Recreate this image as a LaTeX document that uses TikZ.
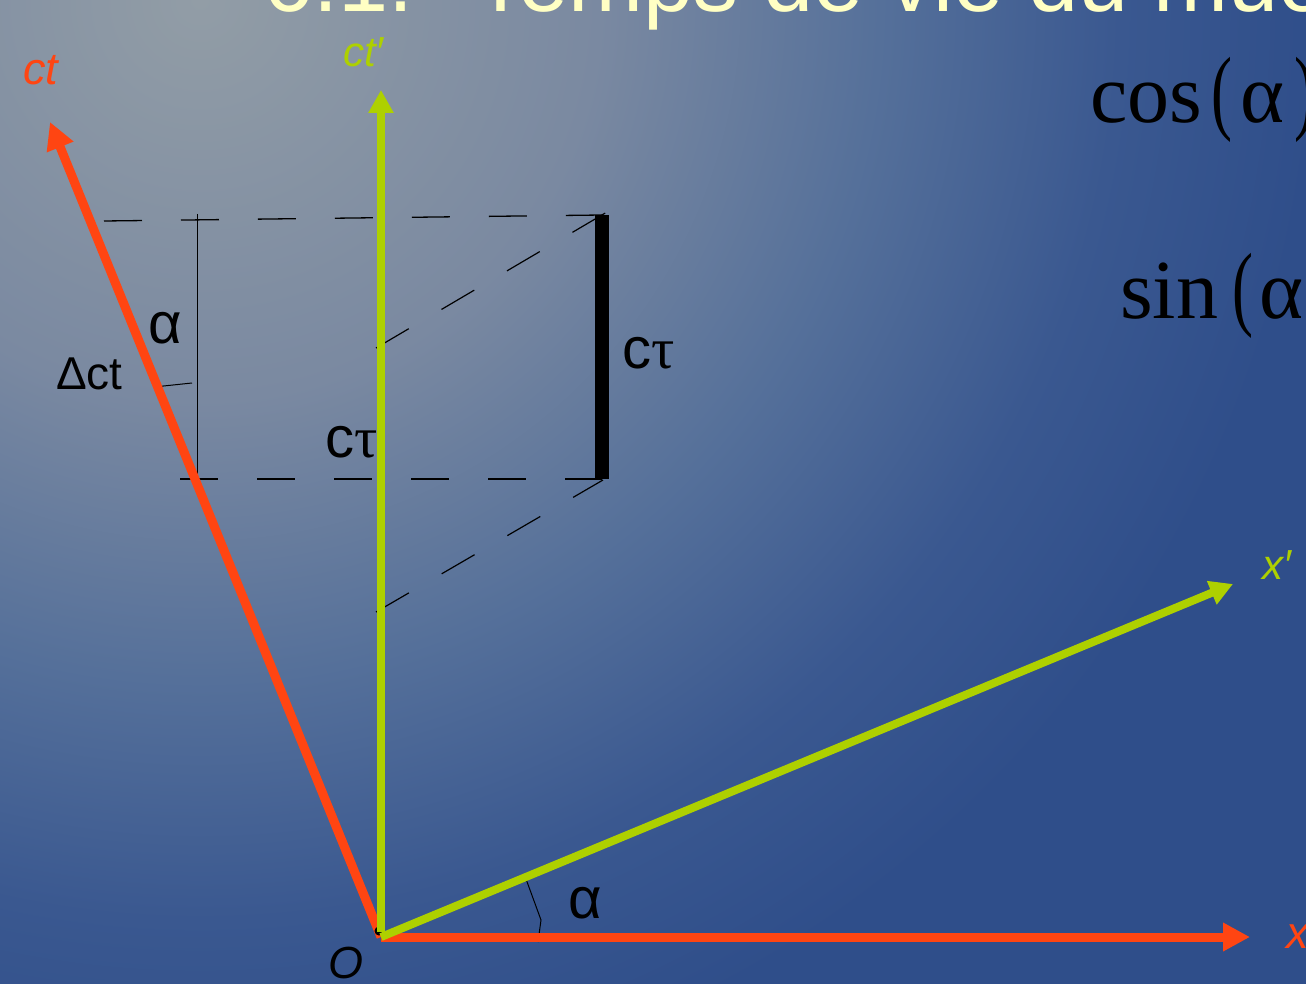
\documentclass[tikz,border=0pt]{standalone}
\usepackage{fontspec}
\usepackage{graphicx}
\setmainfont{Liberation Sans}
\newfontfamily\serifmath{Liberation Serif}
\usetikzlibrary{arrows.meta}
\definecolor{axred}{HTML}{FF4512}
\definecolor{axgreen}{HTML}{AED000}
\definecolor{titlecol}{HTML}{FFFFC4}
\definecolor{bgA}{HTML}{929DA6}
\definecolor{bgB}{HTML}{7A89A1}
\definecolor{bgC}{HTML}{55709A}
\definecolor{bgD}{HTML}{3A5890}
\definecolor{bgE}{HTML}{2F4E8A}
\pgfdeclareradialshading{bgrad}{\pgfpoint{0bp}{0bp}}{color(0bp)=(bgA); color(5bp)=(bgB); color(8.5bp)=(bgC); color(11.5bp)=(bgD); color(14bp)=(bgE); color(50bp)=(bgE)}
\begin{document}
\begin{tikzpicture}[x=1pt,y=-1pt,
  redaxis/.style={draw=axred, line width=9pt, -{Triangle[length=27pt,width=27pt]}},
  greenaxis/.style={draw=axgreen, line width=8pt, -{Triangle[length=23pt,width=24pt]}},
  dashline/.style={draw=black, line width=1.3pt, dash pattern=on 38pt off 39pt},
  diagdash/.style={draw=black, line width=1.2pt, dash pattern=on 38pt off 38pt},
  thinline/.style={draw=black, line width=1pt},
  lab/.style={inner sep=0pt, anchor=base west},
  axlab/.style={lab, font=\itshape\fontsize{45}{45}\selectfont},
  glab/.style={lab, text=black, font=\fontsize{58}{58}\selectfont},
  mathlab/.style={lab, text=black, font=\serifmath\fontsize{84}{84}\selectfont}
]
\useasboundingbox (0,0) rectangle (1306,984);
\clip (0,0) rectangle (1306,984);
\fill[bgE] (0,0) rectangle (1306,984);
\shade[shading=bgrad] (200,0) circle (2000);

% title (cut by the top edge)
\node[lab, text=titlecol, font=\fontsize{90}{90}\selectfont] (title) at (263,12) {6.1.\hspace{60pt}Temps de vie du muon};

% formulas (cut by the right edge)
\node[mathlab] (cosf) at (1090,123) {cos\kern9pt\scalebox{0.75}[1.12]{(}\kern8ptα\kern10pt\scalebox{0.75}[1.12]{)}};
\node[mathlab] (sinf) at (1120,318) {sin\kern14pt\scalebox{0.75}[1.12]{(}\kern6ptα};

% construction lines
\draw[dashline] (104,221) -- (602,215);
\draw[dashline] (180,479) -- (602,479);
\coordinate (d1a) at (376,348); \coordinate (d1b) at (607,212);
\coordinate (d2a) at (376,612); \coordinate (d2b) at (603,480);
\draw[diagdash] (d1a) -- (d1b);
\draw[diagdash] (d2a) -- (d2b);
\coordinate (v1) at (197,214); \coordinate (v2) at (197,479);
\draw[thinline] (v1) -- (v2);
\coordinate (t1) at (154,387); \coordinate (t2) at (192,383);
\draw[thinline] (t1) -- (t2);
\coordinate (m1) at (526,879); \coordinate (m2) at (541,920); \coordinate (m3) at (538,942);
\draw[thinline] (m1) -- (m2) -- (m3);

% proper-time bar
\fill[black] (595,215) rectangle (609,479);

% axes
\coordinate (O) at (381,937);
\coordinate (ctend) at (50,122);
\coordinate (ctpend) at (381,90);
\coordinate (xend) at (1250,937);
\coordinate (xpend) at (1233,584);
\draw[redaxis] (O) -- (ctend);
\draw[redaxis] (O) -- (xend);
\fill[black] (379,931) circle (4.5);
\draw[greenaxis] ([yshift=5pt]O) -- (ctpend);
\draw[greenaxis] (O) -- (xpend);

% labels
\node[axlab, text=axred] (ctlab) at (23,85) {ct};
\node[axlab, text=axgreen, font=\itshape\fontsize{42}{42}\selectfont] (ctplab) at (343,67) {ct′};
\node[axlab, text=axgreen, font=\itshape\fontsize{42}{42}\selectfont] (xplab) at (1262,579) {x′};
\node[axlab, text=axred] (xlab) at (1286,948) {x};
\node[axlab, text=black] (Olab) at (328,978) {O};
\node[lab, text=black, font=\fontsize{58}{58}\selectfont] (alpha1) at (148,343) {α};
\node[lab, text=black, font=\fontsize{58}{58}\selectfont] (alpha2) at (568,918) {α};
\node[lab, text=black, font=\fontsize{46}{46}\selectfont] (dct) at (56,389) {Δct};
\node[glab, anchor=base east] (ctau1) at (378,457) {c{\serifmath τ}};
\node[glab] (ctau2) at (622,368) {c{\serifmath τ}};
\end{tikzpicture}
\end{document}
